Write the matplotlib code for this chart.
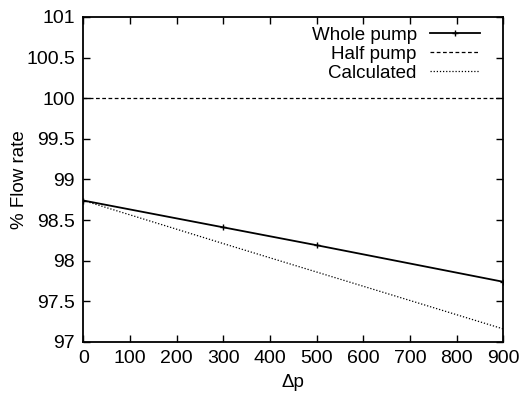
import matplotlib
matplotlib.use('Agg')
import matplotlib.pyplot as plt

plt.rcParams['font.family'] = ['Liberation Sans', 'DejaVu Sans']

# data
dp_whole = [0, 300, 500, 900]
flow_whole = [98.74, 98.41, 98.19, 97.74]
dp_half = [0, 900]
flow_half = [100.0, 100.0]
dp_calc = [0, 300, 500, 900]
flow_calc = [98.74, 98.21, 97.86, 97.16]

xticks = [0, 100, 200, 300, 400, 500, 600, 700, 800, 900]
yticks = [97, 97.5, 98, 98.5, 99, 99.5, 100, 100.5, 101]
ytick_labels = ['97', '97.5', '98', '98.5', '99', '99.5', '100', '100.5', '101']

fig = plt.figure(figsize=(5.28, 3.93), dpi=100)
ax = fig.add_axes([0.158, 0.130, 0.795, 0.827])

ax.plot(dp_whole, flow_whole, color='black', lw=1.3, marker='+', ms=5, mew=1.0,
        label='Whole pump')
ax.plot(dp_half, flow_half, color='black', lw=0.9, linestyle=(0, (3, 2)),
        label='Half pump')
ax.plot(dp_calc, flow_calc, color='black', lw=0.9, linestyle=(0, (1, 1.5)),
        label='Calculated')

ax.set_xlim(0, 900)
ax.set_ylim(97, 101)
ax.set_xticks(xticks)
ax.set_yticks(yticks)
ax.set_yticklabels(ytick_labels)
ax.tick_params(direction='in', top=True, right=True, length=5, width=1,
               labelsize=14, pad=6)
for s in ax.spines.values():
    s.set_linewidth(1.3)

ax.set_xlabel('\u0394p', fontsize=13.5, labelpad=5)
ax.set_ylabel('% Flow rate', fontsize=13.5, labelpad=-1)

ax.legend(loc='upper right', frameon=False, markerfirst=False, fontsize=13.5,
          handlelength=2.67, handletextpad=0.7, labelspacing=0.1,
          borderpad=0, borderaxespad=0, bbox_to_anchor=(0.9445, 0.97))

fig.savefig('out.png', dpi=100)
